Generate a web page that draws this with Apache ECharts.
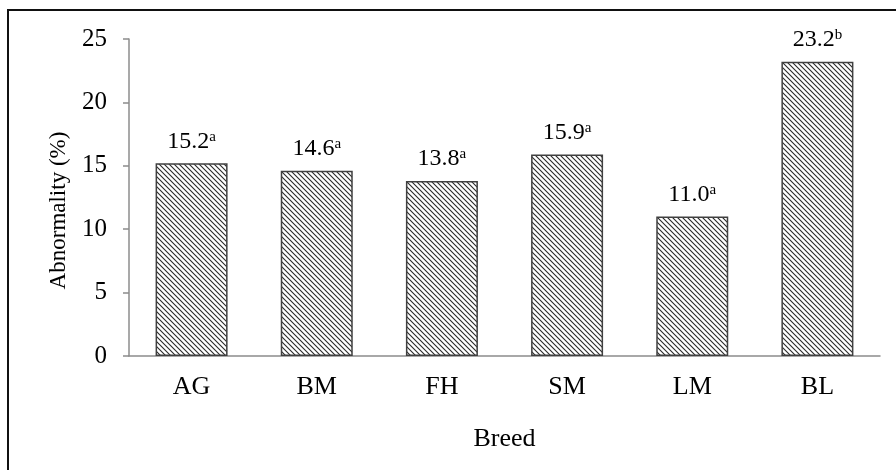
<!DOCTYPE html>
<html>
<head>
<meta charset="utf-8">
<script src="https://cdn.jsdelivr.net/npm/echarts@6/dist/echarts.min.js"></script>
<style>
  html, body { margin: 0; padding: 0; background: #fff; }
  #chart { width: 896px; height: 470px; }
</style>
</head>
<body>
<div id="chart"></div>
<script>
// 数据
const breeds = ['AG', 'BM', 'FH', 'SM', 'LM', 'BL']
const abnormality = [15.2, 14.6, 13.8, 15.9, 11.0, 23.2]
const letters = ['a', 'a', 'a', 'a', 'a', 'b']
const yTicks = [0, 5, 10, 15, 20, 25]

const serif = '"Liberation Serif", "DejaVu Serif", serif'

// 斜线填充
function hatch() {
  const c = document.createElement('canvas')
  c.width = 5
  c.height = 5
  const ctx = c.getContext('2d')
  ctx.fillStyle = '#fff'
  ctx.fillRect(0, 0, 5, 5)
  ctx.strokeStyle = '#2a2a2a'
  ctx.lineWidth = 1.1
  ctx.beginPath()
  ctx.moveTo(-1, -1)
  ctx.lineTo(6, 6)
  ctx.moveTo(-1, 4)
  ctx.lineTo(1, 6)
  ctx.moveTo(4, -1)
  ctx.lineTo(6, 1)
  ctx.stroke()
  return c
}

const myChart = echarts.init(document.getElementById('chart'))

let option = {
  animation: false,
  backgroundColor: '#fff',
  grid: {
    left: 129,
    right: 16,
    top: 39,
    bottom: 114,
  },
  graphic: [
    {
      type: 'polyline',
      shape: { points: [[8, 470], [8, 10], [896, 10]] },
      style: { stroke: '#111', lineWidth: 2, fill: null },
    },
  ],
  xAxis: {
    type: 'category',
    data: breeds,
    name: 'Breed',
    nameLocation: 'middle',
    nameGap: 70,
    nameTextStyle: { fontFamily: serif, fontSize: 26, color: '#000' },
    axisLine: { lineStyle: { color: '#8c8c8c', width: 1.5 } },
    axisTick: { show: false },
    axisLabel: { fontFamily: serif, fontSize: 26, color: '#000', margin: 18 },
  },
  yAxis: {
    type: 'value',
    min: yTicks[0],
    max: yTicks[yTicks.length - 1],
    interval: 5,
    name: 'Abnormality (%)',
    nameLocation: 'middle',
    nameGap: 59,
    nameTextStyle: { fontFamily: serif, fontSize: 23, color: '#000', padding: [0, 26, 0, 0] },
    axisLine: { show: true, lineStyle: { color: '#8c8c8c', width: 1.5 } },
    axisTick: { show: true, length: 6, lineStyle: { color: '#8c8c8c', width: 1.5 } },
    splitLine: { show: false },
    axisLabel: { fontFamily: serif, fontSize: 25, color: '#000', margin: 22 },
  },
  series: [
    {
      type: 'bar',
      barWidth: 72,
      data: abnormality,
      itemStyle: {
        color: { image: hatch(), repeat: 'repeat' },
        borderColor: '#404040',
        borderWidth: 1.5,
      },
      label: {
        show: true,
        position: 'top',
        distance: 10,
        formatter: (p) => `{v|${p.value.toFixed(1)}}{s|${letters[p.dataIndex]}}`,
        rich: {
          v: { fontFamily: serif, fontSize: 24, color: '#000', lineHeight: 24 },
          s: { fontFamily: serif, fontSize: 15, color: '#000', verticalAlign: 'top', lineHeight: 15 },
        },
      },
    },
  ],
}

myChart.setOption(option)
</script>
</body>
</html>
